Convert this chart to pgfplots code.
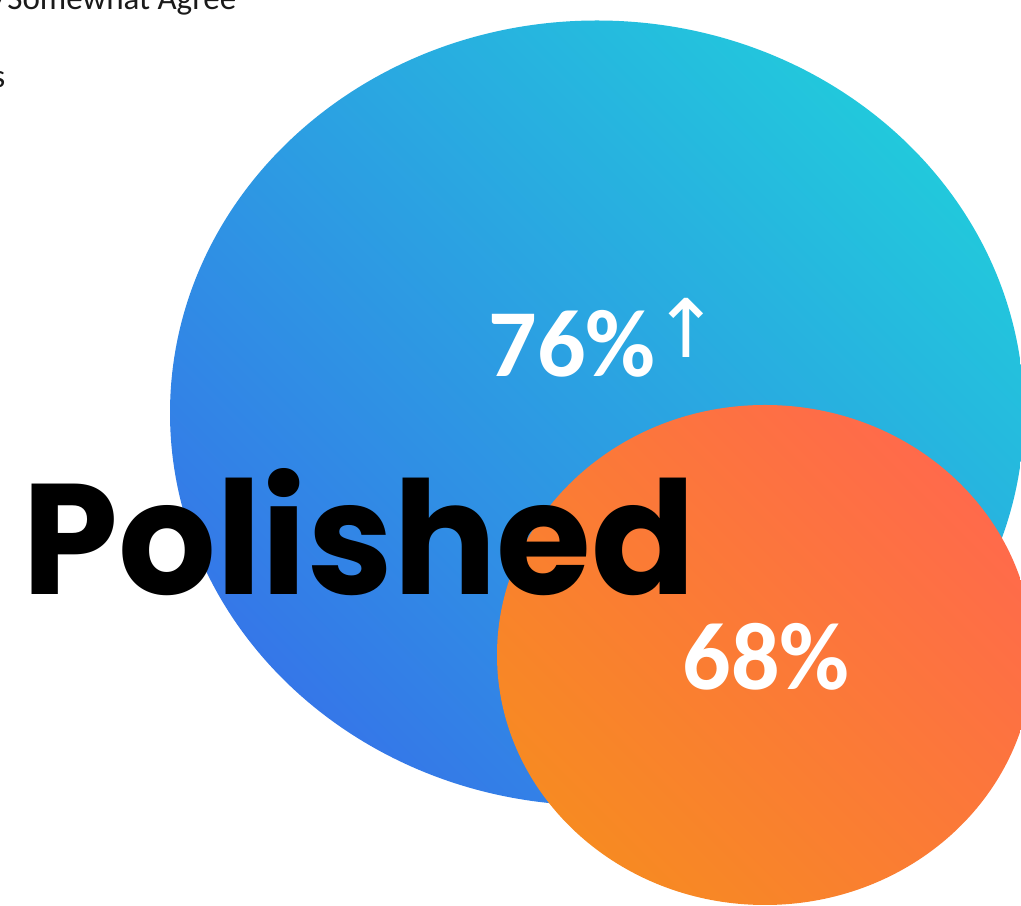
\documentclass[border=0pt]{standalone}
\usepackage{pgfplots}
\pgfplotsset{compat=1.18}
\usepackage{graphicx}
\usepackage{fontspec}
\setmainfont{Carlito}
\newfontfamily\polfont{Poppins}
\newfontfamily\symfont{DejaVu Sans}
\definecolor{bluedeep}{HTML}{3577E8}
\definecolor{bluecyan}{HTML}{22C8DC}
\definecolor{orgA}{HTML}{F78A22}
\definecolor{orgM}{HTML}{F88530}
\definecolor{orgB}{HTML}{FF6A4B}
\definecolor{txt}{HTML}{1A1A1A}
\pgfdeclareplotmark{bluebubble}{%
  \shade[draw=none, left color=bluedeep, right color=bluecyan, shading angle=135]
    (0pt,0pt) ellipse [x radius=42.7mm, y radius=39.25mm];}
\pgfdeclareplotmark{orangebubble}{%
  \shade[draw=none, left color=orgA, middle color=orgM, right color=orgB, shading angle=135]
    (0pt,0pt) ellipse [x radius=26.8mm, y radius=25mm];}
\begin{document}
\begin{tikzpicture}
\begin{axis}[
  hide axis, scale only axis,
  width=102.1mm, height=90.6mm,
  xmin=0, xmax=1021, ymin=0, ymax=906,
  clip=true, set layers=standard,
]
% bubble centres (pixel coordinates of the reference, y upwards)
\addplot[only marks, mark=bluebubble, mark options={draw=none}] coordinates {(597,493)};
\addplot[only marks, mark=orangebubble, mark options={draw=none}] coordinates {(765,251)};

\begin{pgfonlayer}{axis foreground}
\node[anchor=base west, inner sep=0, text=black]
  at (axis cs:22,311) {\resizebox{67.3mm}{12.6mm}{\polfont\bfseries Polished}};
\node[anchor=base west, inner sep=0, text=white, font=\fontsize{27.3}{30}\selectfont\bfseries]
  at (axis cs:488,529) {76\%};
\node[anchor=south west, inner sep=0, text=white, font=\fontsize{23}{26}\selectfont\symfont]
  at (axis cs:652,548) {↑};
\node[anchor=base, inner sep=0, text=white, font=\fontsize{27.3}{30}\selectfont\bfseries]
  at (axis cs:766,216) {68\%};
\node[anchor=base east, inner sep=0, text=txt, overlay, font=\fontsize{9.4}{11}\selectfont]
  at (axis cs:237,896) {Strongly/Somewhat Agree};
\node[anchor=base east, inner sep=0, text=txt, overlay, font=\fontsize{9.4}{11}\selectfont]
  at (axis cs:6,818) {Users};
\end{pgfonlayer}
\end{axis}
\pgfresetboundingbox
\useasboundingbox (current axis.south west) rectangle (current axis.north east);
\end{tikzpicture}
\end{document}
